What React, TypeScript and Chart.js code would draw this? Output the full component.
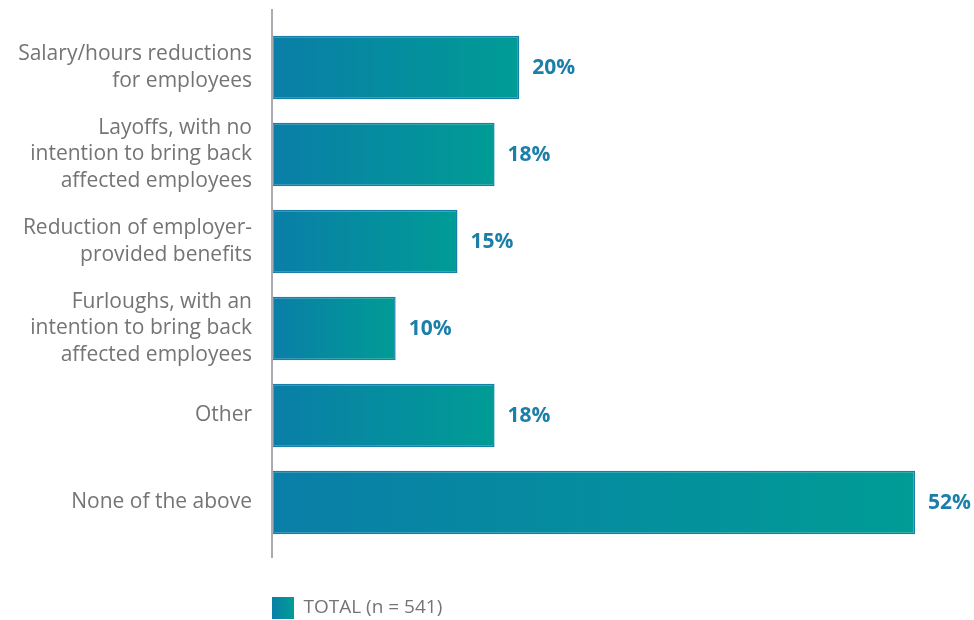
import React, { useEffect, useRef } from "react";
import { Chart, registerables } from "chart.js";

Chart.register(...registerables);

const categories: string[][] = [
  ["Salary/hours reductions", "for employees"],
  ["Layoffs, with no", "intention to bring back", "affected employees"],
  ["Reduction of employer-", "provided benefits"],
  ["Furloughs, with an", "intention to bring back", "affected employees"],
  ["Other"],
  ["None of the above"],
];
const values: number[] = [20, 18, 15, 10, 18, 52];
const seriesLabel = "TOTAL (n = 541)";

const COLOR_LEFT = "#0a7ea8";
const COLOR_RIGHT = "#009c95";
const BORDER = "#1a7eab";
const LABEL_COLOR = "#1c7fa9";
const TICK_COLOR = "#747474";
const FONT = "'Open Sans', sans-serif";

export default function App() {
  const ref = useRef<HTMLCanvasElement | null>(null);

  useEffect(() => {
    const canvas = ref.current;
    if (!canvas) return;

    const axisLine = {
      id: "axisLine",
      afterDraw(chart: any) {
        const { ctx, chartArea } = chart;
        ctx.save();
        ctx.strokeStyle = "#aaaab0";
        ctx.lineWidth = 2;
        ctx.beginPath();
        ctx.moveTo(chartArea.left, chartArea.top - 15);
        ctx.lineTo(chartArea.left, chartArea.bottom + 12);
        ctx.stroke();
        ctx.restore();
      },
    };

    const valueLabels = {
      id: "valueLabels",
      afterDatasetsDraw(chart: any) {
        const { ctx } = chart;
        const meta = chart.getDatasetMeta(0);
        ctx.save();
        ctx.font = `bold 21px ${FONT}`;
        ctx.fillStyle = LABEL_COLOR;
        ctx.textAlign = "left";
        ctx.textBaseline = "middle";
        meta.data.forEach((el: any, i: number) => {
          ctx.fillText(`${values[i]}%`, el.x + 13, el.y + 1);
        });
        ctx.restore();
      },
    };

    const chart = new Chart(canvas, {
      type: "bar",
      data: {
        labels: categories,
        datasets: [
          {
            label: seriesLabel,
            data: values,
            backgroundColor: (c: any) => {
              const chart = c.chart;
              const xs = chart.scales?.x;
              if (!xs || c.type !== "data") return COLOR_RIGHT;
              const x0 = xs.getPixelForValue(0);
              const x1 = xs.getPixelForValue(c.raw);
              if (!isFinite(x0) || !isFinite(x1) || x1 <= x0) return COLOR_RIGHT;
              const g = chart.ctx.createLinearGradient(x0, 0, x1, 0);
              g.addColorStop(0, COLOR_LEFT);
              g.addColorStop(1, COLOR_RIGHT);
              return g;
            },
            borderColor: BORDER,
            borderWidth: 1.5,
            borderSkipped: false,
            barPercentage: 0.73,
            categoryPercentage: 1,
          },
        ],
      },
      options: {
        indexAxis: "y",
        responsive: false,
        animation: false,
        layout: { padding: { top: 24, right: 59, bottom: 1, left: 0 } },
        scales: {
          x: {
            min: 0,
            max: 52,
            display: true,
            grid: { display: false, drawTicks: false },
            border: { display: false },
            ticks: { display: false },
            afterFit: (s: any) => {
              s.height = 51;
              s.paddingLeft = 0;
              s.paddingRight = 0;
            },
          },
          y: {
            grid: { display: false, drawTicks: false },
            border: { display: false },
            ticks: {
              padding: 20,
              color: TICK_COLOR,
              font: { family: FONT, size: 21, lineHeight: 1.24 },
            },
            afterFit: (s: any) => {
              s.width = 272;
              s.paddingTop = 0;
              s.paddingBottom = 0;
            },
          },
        },
        plugins: {
          tooltip: { enabled: false },
          legend: {
            position: "bottom",
            align: "start",
            fullSize: false,
            maxHeight: 22,
            labels: {
              padding: 0,
              boxWidth: 22,
              boxHeight: 22,
              color: TICK_COLOR,
              font: { family: FONT, size: 19 },
              generateLabels: (chart: any) => {
                const g = chart.ctx.createLinearGradient(271, 0, 293, 0);
                g.addColorStop(0, COLOR_LEFT);
                g.addColorStop(1, COLOR_RIGHT);
                return [
                  {
                    text: seriesLabel,
                    fillStyle: g,
                    strokeStyle: g,
                    lineWidth: 0,
                    hidden: false,
                    datasetIndex: 0,
                    fontColor: TICK_COLOR,
                  },
                ];
              },
            },
          },
        },
      },
      plugins: [axisLine, valueLabels],
    } as any);

    return () => chart.destroy();
  }, []);

  return (
    <div style={{ position: "absolute", left: 0, top: 0, width: 974, height: 620, background: "#fff" }}>
      <canvas ref={ref} width={974} height={620} />
    </div>
  );
}
